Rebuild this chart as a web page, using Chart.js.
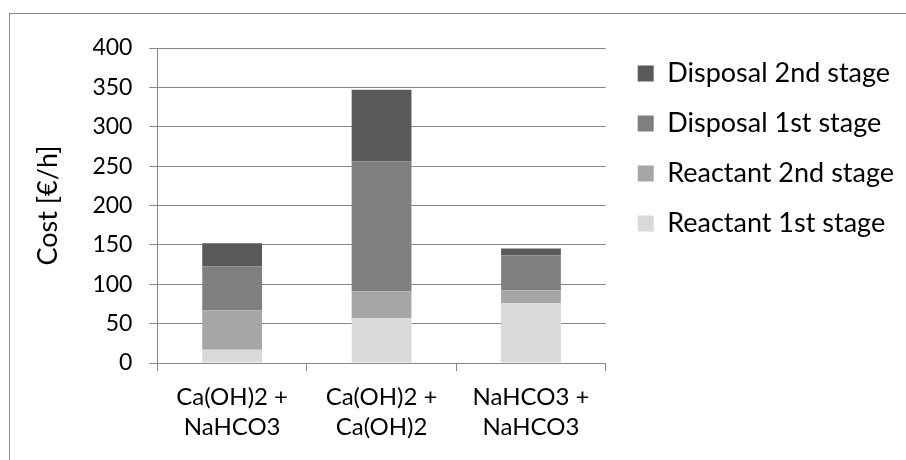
<!DOCTYPE html>
<html>
<head>
<meta charset="utf-8">
<script src="https://cdn.jsdelivr.net/npm/chart.js@4"></script>
<style>
  html, body { margin: 0; padding: 0; background: #fff; }
  #wrap { position: relative; width: 906px; height: 460px; }
  #frame { position: absolute; left: 9px; top: 13px; width: 900px; height: 450px;
           border-top: 1.5px solid #8a8a8a; border-left: 1.5px solid #8a8a8a; pointer-events: none; }
  canvas { position: absolute; left: 0; top: 0; }
</style>
</head>
<body>
<div id="wrap">
  <canvas id="chart" width="906" height="460"></canvas>
  <div id="frame"></div>
</div>
<script>
const categories = [['Ca(OH)2 +', 'NaHCO3'], ['Ca(OH)2 +', 'Ca(OH)2'], ['NaHCO3 +', 'NaHCO3']];
const reactant1 = [17, 57, 76];
const reactant2 = [50, 34, 16.5];
const disposal1 = [56, 165, 44];
const disposal2 = [29, 91, 9];

const font = 'Lato, "Liberation Sans", sans-serif';

function series(label, data, color){
  return {
    label: label,
    data: data,
    backgroundColor: color,
    borderWidth: 0,
    barPercentage: 0.4,
    categoryPercentage: 1
  };
}

const config = {
  type: 'bar',
  data: {
    labels: categories,
    datasets: [
      series('Reactant 1st stage', reactant1, '#d9d9d9'),
      series('Reactant 2nd stage', reactant2, '#a6a6a6'),
      series('Disposal 1st stage', disposal1, '#7f7f7f'),
      series('Disposal 2nd stage', disposal2, '#595959')
    ]
  },
  options: {
    responsive: false,
    animation: false,
    layout: {padding: {top: 37, left: 30, right: 2, bottom: 6}},
    plugins: {
      tooltip: {enabled: false},
      // empty title, only pushes the plot down below the legend start
      title: {display: true, text: '', fullSize: false, font: {size: 10, lineHeight: 1}, padding: {top: 1, bottom: 0}},
      legend: {
        position: 'right',
        align: 'start',
        reverse: true,
        maxWidth: 340,
        labels: {
          color: '#000',
          font: {family: font, size: 27},
          boxWidth: 16,
          boxHeight: 16,
          padding: 23
        }
      }
    },
    scales: {
      x: {
        stacked: true,
        grid: {display: true, drawOnChartArea: false, drawTicks: true, tickLength: 8, color: '#888', offset: true},
        border: {color: '#888', width: 1},
        ticks: {color: '#000', font: {family: font, size: 24, lineHeight: 1.27}, padding: 11, maxRotation: 0}
      },
      y: {
        stacked: true,
        min: 0,
        max: 400,
        grid: {color: '#888', lineWidth: 1, tickLength: 8},
        border: {color: '#888', width: 1},
        ticks: {stepSize: 50, color: '#000', font: {family: font, size: 23}, padding: 17},
        title: {display: true, text: 'Cost [€/h]', color: '#000', font: {family: font, size: 27}, padding: {top: 2, bottom: 11}}
      },
      gap: {
        type: 'linear',
        position: 'right',
        grid: {display: false},
        border: {display: false},
        ticks: {display: false},
        afterFit: function(scale){ scale.width = 9; }
      }
    }
  }
};

new Chart(document.getElementById('chart').getContext('2d'), config);
</script>
</body>
</html>
